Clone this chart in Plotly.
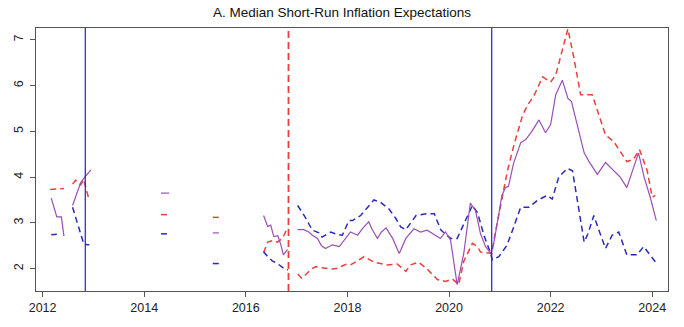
import plotly.graph_objects as go

# ---- data (fractional years, None = missing survey months) ----
rep_x = [2012.15, 2012.42, None, 2012.59, 2012.65, 2012.75, 2012.81, 2012.91, None,
         2014.33, 2014.49, None, 2015.35, 2015.47, None,
         2016.35, 2016.43, 2016.52, 2016.62, 2016.72, 2016.83, None,
         2017.02, 2017.10, 2017.18, 2017.28, 2017.37, 2017.53, 2017.67, 2017.79, 2017.89, 2017.96,
         2018.06, 2018.20, 2018.33, 2018.52, 2018.78, 2018.98, 2019.15, 2019.24, 2019.40, 2019.57,
         2019.77, 2019.93, 2020.07, 2020.19, 2020.29, 2020.46, 2020.56, 2020.62, 2020.78, 2020.84,
         2020.92, 2021.02, 2021.15, 2021.28, 2021.45, 2021.55, 2021.68, 2021.84, 2022.00, 2022.10,
         2022.34, 2022.46, 2022.59, 2022.82, 2022.95, 2023.08, 2023.24, 2023.50, 2023.63, 2023.75,
         2023.90, 2024.00, 2024.06]
rep_y = [3.73, 3.75, None, 3.85, 3.93, 3.83, 3.95, 3.52, None,
         3.18, 3.18, None, 3.12, 3.12, None,
         2.35, 2.58, 2.61, 2.58, 2.66, 2.91, None,
         1.88, 1.79, 1.87, 1.98, 2.04, 2.01, 1.99, 2.00, 2.06, 2.09,
         2.08, 2.18, 2.26, 2.14, 2.08, 2.10, 1.94, 2.08, 2.14, 1.99,
         1.76, 1.72, 1.77, 1.65, 2.16, 2.55, 2.48, 2.36, 2.33, 2.33,
         2.84, 3.41, 4.14, 4.71, 5.36, 5.58, 5.80, 6.19, 6.08, 6.23,
         7.24, 6.59, 5.80, 5.80, 5.36, 4.92, 4.78, 4.34, 4.39, 4.60,
         4.14, 3.56, 3.60]

ind_x = [2012.17, 2012.28, 2012.37, 2012.42, None,
         2012.59, 2012.75, 2012.83, 2012.95, None,
         2014.33, 2014.49, None, 2015.35, 2015.47, None,
         2016.35, 2016.43, 2016.49, 2016.55, 2016.63, 2016.69, 2016.74, 2016.82, None,
         2017.02, 2017.14, 2017.24, 2017.31, 2017.41, 2017.49, 2017.57, 2017.70, 2017.84, 2017.93,
         2018.06, 2018.20, 2018.30, 2018.42, 2018.49, 2018.59, 2018.67, 2018.76, 2018.89, 2019.02,
         2019.15, 2019.31, 2019.44, 2019.57, 2019.70, 2019.83, 2019.93, 2020.03, 2020.16, 2020.29,
         2020.42, 2020.52, 2020.62, 2020.72, 2020.82,
         2020.88, 2020.97, 2021.04, 2021.11, 2021.17, 2021.27, 2021.41, 2021.51, 2021.63, 2021.77,
         2021.90, 2022.00, 2022.10, 2022.23, 2022.34, 2022.41, 2022.53, 2022.66, 2022.75, 2022.92,
         2023.08, 2023.24, 2023.37, 2023.50, 2023.63, 2023.73, 2023.84, 2023.96, 2024.08]
ind_y = [3.54, 3.13, 3.13, 2.71, None,
         3.38, 3.88, 4.00, 4.16, None,
         3.65, 3.65, None, 2.78, 2.78, None,
         3.16, 2.92, 2.95, 2.70, 2.72, 2.52, 2.30, 2.42, None,
         2.85, 2.85, 2.80, 2.73, 2.66, 2.50, 2.44, 2.52, 2.48, 2.62,
         2.80, 2.73, 2.88, 3.02, 2.85, 2.66, 2.80, 2.89, 2.66, 2.33,
         2.66, 2.87, 2.80, 2.84, 2.75, 2.66, 2.80, 2.62, 1.65, 2.33,
         3.43, 3.27, 2.76, 2.48, 2.33,
         2.55, 3.13, 3.60, 3.77, 3.80, 4.30, 4.75, 4.82, 5.00, 5.25,
         4.97, 5.15, 5.80, 6.12, 5.72, 5.65, 5.10, 4.53, 4.35, 4.06,
         4.32, 4.14, 4.00, 3.77, 4.20, 4.53, 4.00, 3.56, 3.05]

dem_x = [2012.17, 2012.28, None,
         2012.59, 2012.81, 2012.88, 2012.92, None,
         2014.33, 2014.49, None, 2015.35, 2015.47, None,
         2016.35, 2016.43, 2016.52, 2016.62, 2016.73, 2016.83, None,
         2017.02, 2017.15, 2017.31, 2017.44, 2017.50, 2017.57, 2017.67, 2017.79, 2017.90, 2018.03,
         2018.10, 2018.26, 2018.42, 2018.52, 2018.65, 2018.82, 2018.95, 2019.05, 2019.15, 2019.35,
         2019.55, 2019.71, 2019.84, 2020.03, 2020.16, 2020.29, 2020.46, 2020.56, 2020.69, 2020.82,
         2020.85, 2020.98, 2021.14, 2021.27, 2021.41, 2021.57, 2021.74, 2021.93, 2022.03, 2022.16,
         2022.33, 2022.43, 2022.56, 2022.66, 2022.73, 2022.85, 2022.95, 2023.08, 2023.21, 2023.34,
         2023.50, 2023.70, 2023.83, 2024.06]
dem_y = [2.74, 2.75, None,
         3.34, 2.54, 2.52, 2.52, None,
         2.76, 2.76, None, 2.11, 2.11, None,
         2.37, 2.26, 2.17, 2.11, 2.02, 1.97, None,
         3.38, 3.16, 2.84, 2.78, 2.69, 2.73, 2.80, 2.75, 2.73, 3.05,
         3.05, 3.16, 3.38, 3.50, 3.45, 3.30, 3.10, 2.91, 2.85, 3.16,
         3.20, 3.20, 2.84, 2.66, 2.66, 2.98, 3.38, 3.22, 2.72, 2.33,
         2.19, 2.26, 2.51, 2.90, 3.34, 3.34, 3.49, 3.60, 3.52, 4.00,
         4.19, 4.14, 3.20, 2.58, 2.75, 3.16, 2.84, 2.44, 2.73, 2.80,
         2.30, 2.30, 2.48, 2.15]

election_dates = [2012.84, 2016.84, 2020.84]
election_winner = ["D", "R", "D"]
x_ticks = [2012, 2014, 2016, 2018, 2020, 2022, 2024]
y_ticks = [2, 3, 4, 5, 6, 7]
title = "A. Median Short-Run Inflation Expectations"

RED = "#e8413c"
BLUE = "#2a2ab8"
PURPLE = "#9a4fb5"

fig = go.Figure()
fig.add_trace(go.Scatter(x=rep_x, y=rep_y, mode="lines", name="Republicans",
                         line=dict(color=RED, width=1.5, dash="6px,4px")))
fig.add_trace(go.Scatter(x=dem_x, y=dem_y, mode="lines", name="Democrats",
                         line=dict(color=BLUE, width=1.5, dash="6px,4px")))
fig.add_trace(go.Scatter(x=ind_x, y=ind_y, mode="lines", name="Independents",
                         line=dict(color=PURPLE, width=1.2)))

for d, w in zip(election_dates, election_winner):
    if w == "D":
        fig.add_shape(type="line", xref="x", yref="paper", x0=d, x1=d, y0=0, y1=1,
                      line=dict(color="#1f1fc8", width=1.2))
    else:
        fig.add_shape(type="line", xref="x", yref="paper", x0=d, x1=d, y0=0, y1=1,
                      line=dict(color=RED, width=1.8, dash="7px,4px"))

fig.update_layout(
    width=684, height=327,
    margin=dict(l=35, r=16, t=28, b=31),
    paper_bgcolor="white", plot_bgcolor="white",
    showlegend=False,
    font=dict(family="Liberation Sans, Arial, sans-serif", size=12, color="#222"),
    title=dict(text=title, x=0.5, xanchor="center", y=0.962, yanchor="middle",
               font=dict(size=13.5, color="#111")),
)
fig.update_xaxes(range=[2011.87, 2024.31], tickvals=x_ticks, ticktext=[str(t) for t in x_ticks],
                 showgrid=False, zeroline=False, showline=True, mirror=True,
                 linecolor="#555", linewidth=1, ticks="outside", ticklen=5,
                 tickcolor="#555", tickfont=dict(size=12.5))
fig.update_yaxes(range=[1.51, 7.26], tickvals=y_ticks, ticktext=[str(t) for t in y_ticks],
                 showgrid=False, zeroline=False, showline=True, mirror=True,
                 linecolor="#555", linewidth=1, ticks="outside", ticklen=5,
                 tickcolor="#555", tickangle=-90, tickfont=dict(size=12.5),
                 ticklabelstandoff=2)

fig.write_html("out.html")
